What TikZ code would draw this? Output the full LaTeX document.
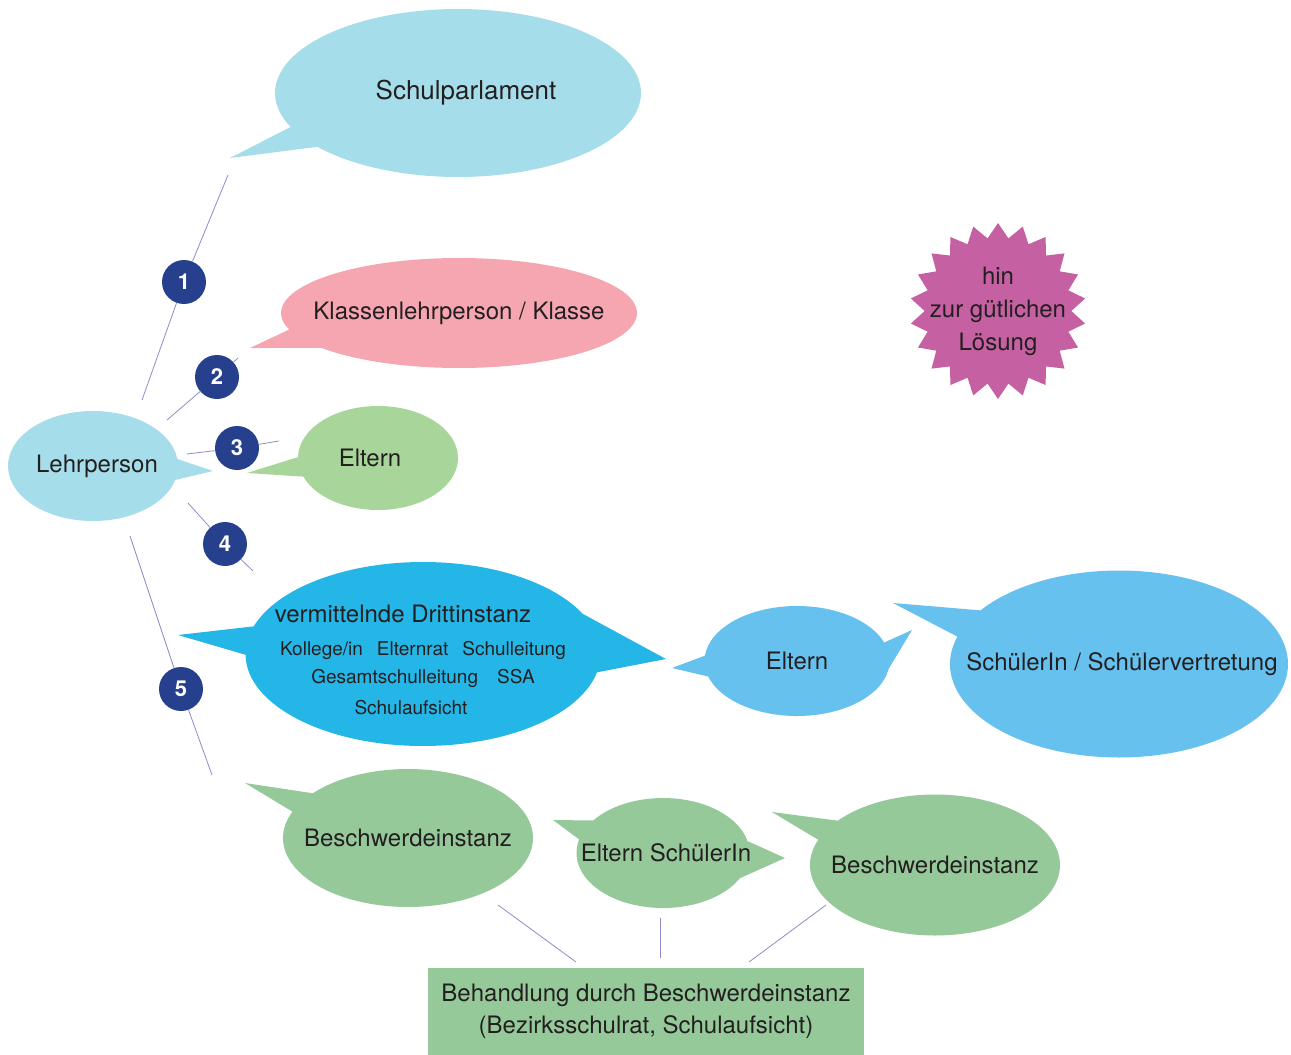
\documentclass[tikz,border=0pt]{standalone}
\usepackage{fontspec}
\setmainfont{TeX Gyre Heros}
\usepackage{tikz}
\usetikzlibrary{shapes.callouts, shapes.geometric, positioning, backgrounds}

\definecolor{ink}{HTML}{231F20}
\definecolor{paleblue}{HTML}{A6DDEA}
\definecolor{rose}{HTML}{F5A6B1}
\definecolor{leaf}{HTML}{A8D59A}
\definecolor{sage}{HTML}{96C99A}
\definecolor{strongcyan}{HTML}{25B6E8}
\definecolor{skyblue}{HTML}{66C1EE}
\definecolor{navy}{HTML}{26408E}
\definecolor{orchid}{HTML}{C560A2}
\definecolor{linkblue}{HTML}{8C8CC8}

\begin{document}
\begin{tikzpicture}[
  x=1pt, y=-1pt,
  bubble/.style = {ellipse callout, inner xsep=-90pt, inner ysep=0pt, callout pointer arc=22, align=center, text=ink, font=\fontsize{24}{30}\selectfont},
  num/.style    = {circle, fill=navy, minimum size=44pt, inner sep=0pt, text=white, font=\fontsize{22}{22}\selectfont\bfseries},
  link/.style   = {draw=linkblue, line width=0.8pt}
]
  \useasboundingbox (0,0) rectangle (1291,1055);

  % pointer tips
  \coordinate (tipLehr)  at (213,471);
  \coordinate (tipParl)  at (230,158);
  \coordinate (tipKlas)  at (250,348);
  \coordinate (tipElt)   at (247,473);
  \coordinate (tipDrL)   at (178,635);
  \coordinate (tipDrR)   at (666,659);
  \coordinate (tipEbL)   at (672,668);
  \coordinate (tipEbR)   at (912,630);
  \coordinate (tipSchue) at (893,603);
  \coordinate (tipBesA)  at (245,783);
  \coordinate (tipEsL)   at (553,820);
  \coordinate (tipEsR)   at (785,858);
  \coordinate (tipBesB)  at (772,812);

  % Lehrperson bubble
  \node[bubble, fill=paleblue, minimum width=170pt, minimum height=110pt,
        callout absolute pointer={(tipLehr)}] (lehr) at (93,466) {\hspace*{8pt}Lehrperson};

  % Schulparlament bubble
  \node[bubble, fill=paleblue, minimum width=366pt, minimum height=168pt, callout pointer arc=16,
        font=\fontsize{26}{30}\selectfont, callout absolute pointer={(tipParl)}] (parl) at (458,93) {\hspace*{16pt}Schulparlament};

  % Klassenlehrperson bubble
  \node[bubble, fill=rose, minimum width=356pt, minimum height=110pt,
        callout absolute pointer={(tipKlas)}] (klasse) at (459,313) {Klassenlehrperson / Klasse};

  % Eltern bubble
  \node[bubble, fill=leaf, minimum width=160pt, minimum height=104pt,
        callout absolute pointer={(tipElt)}] (eltern) at (378,458) {\hspace*{-16pt}Eltern};

  % vermittelnde Drittinstanz bubble
  \node[bubble, fill=strongcyan, minimum width=355pt, minimum height=184pt, callout pointer arc=18,
        callout absolute pointer={(tipDrL)}] (dritt) at (423,654) {%
    \rule{0pt}{30pt}vermittelnde Drittinstanz\hspace*{40pt}\\[3pt]
    \fontsize{19}{30}\selectfont Kollege/in\hspace{14pt}Elternrat\hspace{14pt}Schulleitung\\[-2pt]
    \fontsize{19}{30}\selectfont Gesamtschulleitung\hspace{19pt}SSA\\[1pt]
    \fontsize{19}{30}\selectfont Schulaufsicht\hspace*{24pt}};

  % Eltern (blau) bubble
  \node[bubble, fill=skyblue, minimum width=185pt, minimum height=110pt,
        callout absolute pointer={(tipEbL)}] (elternB) at (797,661) {Eltern};

  % SchuelerIn bubble
  \node[bubble, fill=skyblue, minimum width=338pt, minimum height=187pt, callout pointer arc=18,
        callout absolute pointer={(tipSchue)}] (schueler) at (1119,664) {\hspace*{6pt}SchülerIn / Schülervertretung};

  % Beschwerdeinstanz bubbles
  \node[bubble, fill=sage, minimum width=250pt, minimum height=138pt, callout pointer arc=18,
        callout absolute pointer={(tipBesA)}] (besA) at (408,838) {Beschwerdeinstanz};
  \node[bubble, fill=sage, minimum width=173pt, minimum height=110pt,
        callout absolute pointer={(tipEsL)}] (eltschue) at (663,853) {\hspace*{6pt}Eltern SchülerIn};
  \node[bubble, fill=sage, minimum width=250pt, minimum height=141pt, callout pointer arc=18,
        callout absolute pointer={(tipBesB)}] (besB) at (935,865) {Beschwerdeinstanz};

  % second tails
  \begin{pgfonlayer}{background}
    \fill[strongcyan] (dritt.14) -- (tipDrR) -- (dritt.-6) -- cycle;
    \fill[skyblue] (elternB.12) -- (tipEbR) -- (elternB.-20) -- cycle;
    \fill[sage] (eltschue.8) -- (tipEsR) -- (eltschue.-18) -- cycle;
  \end{pgfonlayer}

  % Behandlung box
  \node[fill=sage, minimum width=436pt, minimum height=87pt, inner sep=0pt, align=center,
        text=ink, font=\fontsize{24}{32}\selectfont] (behandlung) at (646,1011.5)
    {Behandlung durch Beschwerdeinstanz\\(Bezirksschulrat, Schulaufsicht)};

  % starburst
  \node[star, star points=22, star point ratio=1.2, fill=orchid, minimum size=176pt,
        inner sep=0pt] (burst) at (998,311) {};
  \node[align=center, text=ink, font=\fontsize{24}{33}\selectfont] (bursttext) at (burst.center)
    {hin\\zur gütlichen\\Lösung};

  % numbered steps
  \node[num] (n1) at (184,282) {1};
  \node[num] (n2) at (217,377) {2};
  \node[num] (n3) at (237,448) {3};
  \node[num] (n4) at (225,544) {4};
  \node[num] (n5) at (181,689) {5};

  % connector ends
  \coordinate (l1a) at (142,400); \coordinate (l1b) at (228,175);
  \coordinate (l2a) at (167,420); \coordinate (l2b) at (238,358);
  \coordinate (l3a) at (187,454); \coordinate (l3b) at (279,441);
  \coordinate (l4a) at (188,503); \coordinate (l4b) at (253,571);
  \coordinate (l5a) at (130,536); \coordinate (l5b) at (212,775);
  \coordinate (b1a) at (498,905); \coordinate (b1b) at (576,962);
  \coordinate (b2a) at (660,918); \coordinate (b2b) at (660,958);
  \coordinate (b3a) at (826,905); \coordinate (b3b) at (749,962);

  \draw[link] (l1a) -- (n1) -- (l1b);
  \draw[link] (l2a) -- (n2) -- (l2b);
  \draw[link] (l3a) -- (n3) -- (l3b);
  \draw[link] (l4a) -- (n4) -- (l4b);
  \draw[link] (l5a) -- (n5) -- (l5b);
  \draw[link] (b1a) -- (b1b);
  \draw[link] (b2a) -- (b2b);
  \draw[link] (b3a) -- (b3b);

\end{tikzpicture}
\end{document}
